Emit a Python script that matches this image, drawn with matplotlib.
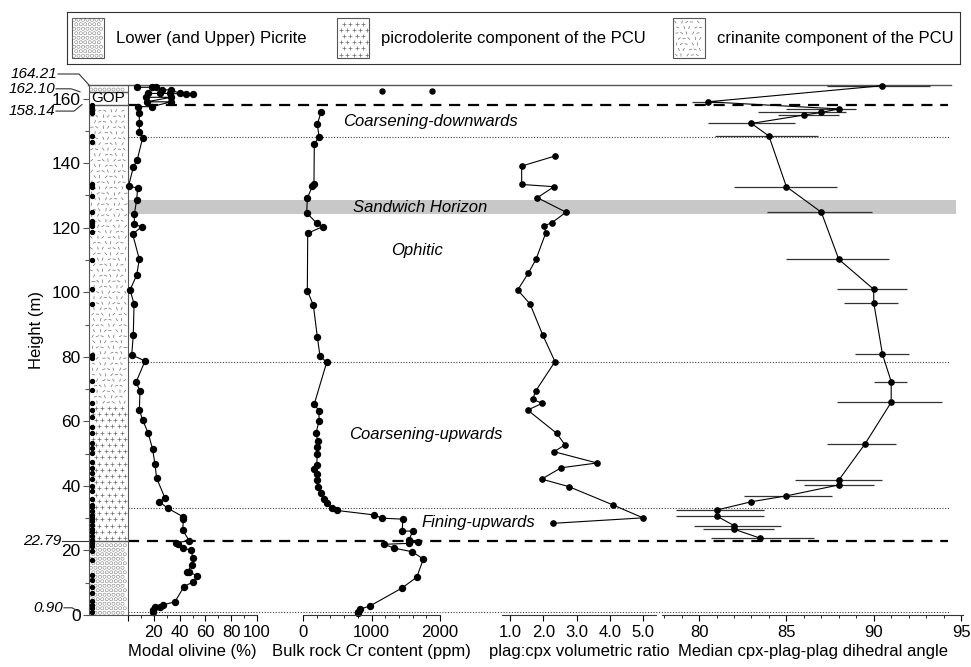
import numpy as np
import matplotlib.pyplot as plt
from matplotlib.collections import LineCollection

plt.rcParams['font.family'] = ['Liberation Sans', 'DejaVu Sans']
plt.rcParams['font.size'] = 12

# sample heights (m) marked along the column
sample_h = [157.9, 157.1, 156.2, 155.5, 148.5, 146.4, 133.5, 132.7, 129.8, 124.9,
            122.0, 121.3, 120.5, 118.7, 109.9, 101.1, 96.4, 80.7, 79.6, 72.6,
            69.7, 65.6, 63.5, 61.4, 58.1, 56.3, 53.4, 51.8, 50.3, 47.4, 45.6,
            44.1, 42.0, 39.9, 38.4, 35.8, 34.2, 33.4, 32.1, 31.1, 30.1, 29.0,
            28.0, 26.7, 25.7, 24.4, 23.1, 22.3, 21.5, 19.7, 17.1, 12.4, 10.9,
            8.8, 6.7, 4.4, 3.1, 2.1, 1.0]

# modal olivine (%)
ol_h = [163.5, 163.5, 163.5, 162.7, 162.7, 161.6, 161.3, 161.3, 161.6, 161.6,
        161.6, 160.4, 160.4, 159.0, 159.0, 157.5, 157.5, 155.4, 152.3, 149.7,
        147.9, 141.1, 138.7, 133.0, 132.2, 128.6, 124.2, 121.0, 120.3, 118.0,
        110.2, 105.3, 100.7, 96.4, 86.8, 80.6, 78.7, 72.1, 69.4, 63.5, 60.4,
        56.3, 51.5, 46.8, 42.4, 36.2, 35.1, 33.1, 30.5, 29.8, 26.3, 23.0, 22.4,
        22.0, 20.7, 20.1, 17.6, 15.5, 13.2, 13.2, 12.2, 10.3, 8.8, 4.1, 3.1,
        2.6, 2.4, 1.5, 0.8]
ol_v = [6.7, 18.4, 21.7, 26.6, 33.1, 40.3, 45.0, 50.1, 32.6, 24.8,
        15.8, 14.0, 33.5, 14.5, 33.5, 18.4, 7.8, 8.8, 8.8, 8.8,
        11.4, 7.2, 4.1, 0.5, 7.5, 6.7, 4.9, 4.9, 10.6, 3.6,
        8.8, 6.7, 1.6, 4.7, 4.1, 2.9, 13.2, 6.2, 9.3, 8.8, 11.4,
        15.7, 19.0, 20.9, 22.2, 28.7, 24.3, 30.7, 42.4, 43.0, 42.4, 47.5, 37.2,
        39.0, 42.9, 48.6, 50.6, 49.6, 45.5, 47.5, 53.7, 50.6, 43.4, 36.4, 26.9,
        24.8, 20.9, 19.6, 19.6]

# bulk rock Cr (ppm)
cr_h = [155.7, 152.1, 148.2, 145.8, 133.5, 132.9, 129.1, 124.6, 121.4, 120.3,
        118.3, 100.5, 96.0, 86.2, 80.2, 78.3, 65.4, 63.2, 60.2, 56.3, 54.0,
        52.1, 49.9, 46.5, 45.1, 43.6, 41.8, 39.8, 37.9, 35.8, 34.6, 33.1, 32.4,
        31.0, 30.0, 29.7, 26.0, 26.0, 23.2, 22.6, 22.2, 21.9, 20.7, 19.6, 17.3,
        11.7, 8.3, 2.8, 1.8, 1.0, 0.6]
cr_v = [263, 209, 234, 165, 160, 136, 63, 54, 200, 288,
        69, 63, 151, 209, 248, 346, 165, 234, 234, 190, 215,
        209, 209, 200, 165, 209, 200, 215, 258, 307, 355, 419, 492,
        1041, 1149, 1456, 1450, 1601, 1548, 1675, 1548, 1183, 1333, 1596, 1757,
        1660, 1441, 978, 832, 808, 800]
cr_gop_h = [162.5, 162.3]
cr_gop_v = [1149, 1888]

# plag:cpx volumetric ratio
ra_h = [142.2, 139.1, 133.4, 132.7, 129.3, 124.8, 121.5, 120.6, 118.3, 110.2,
        105.9, 100.7, 96.4, 86.8, 78.5, 69.4, 66.8, 65.6, 63.5, 56.3, 52.7,
        50.6, 47.1, 45.6, 42.1, 39.8, 34.1, 30.1, 28.4]
ra_v = [2.35, 1.35, 1.35, 2.32, 1.82, 2.68, 2.25, 2.03, 2.07, 1.78,
        1.55, 1.23, 1.60, 1.98, 2.35, 1.77, 1.68, 1.97, 1.53, 2.40, 2.65,
        2.32, 3.61, 2.53, 1.95, 2.76, 4.09, 4.99, 2.28]

# median cpx-plag-plag dihedral angle (deg) with range
an_h = [164.0, 159.0, 156.8, 155.7, 154.9, 152.3, 148.4, 132.7, 124.8, 110.2,
        100.9, 96.8, 80.8, 72.3, 65.9, 53.0, 41.8, 40.3, 36.9, 35.1, 32.5,
        30.7, 27.7, 26.6, 23.8]
an_v = [90.5, 80.5, 88.0, 87.0, 86.0, 83.0, 84.0, 85.0, 87.0, 88.0,
        90.0, 90.0, 90.5, 91.0, 91.0, 89.5, 88.0, 88.0, 85.0, 83.0, 81.0,
        81.0, 82.0, 82.0, 83.5]
an_lo = [87.3, 79.6, 85.0, 83.4, 84.5, 80.5, 80.9, 82.0, 83.9, 85.0,
         87.9, 88.3, 88.9, 90.0, 87.9, 87.3, 85.5, 86.0, 82.6, 83.0, 78.7,
         78.7, 79.7, 80.2, 80.7]
an_hi = [93.2, 81.4, 89.0, 88.4, 88.0, 85.5, 86.8, 87.9, 89.9, 90.9,
         91.9, 91.4, 92.0, 91.9, 93.9, 91.3, 90.5, 90.0, 87.6, 83.0, 83.7,
         83.7, 84.7, 84.3, 86.6]

# stratigraphy
TOP = 164.21
units = [(0.0, 22.79, 'picrite'), (22.79, 65.0, 'picrodolerite'),
         (65.0, 158.14, 'crinanite'), (162.10, TOP, 'picrite')]
dashed_h = [158.14, 22.79]
dotted_h = [148.0, 78.3, 33.2, 0.9]
sandwich = (124.1, 128.6)
zone_text = [(430, 153.0, 'Coarsening-downwards'), (420, 126.4, 'Sandwich Horizon'),
             (417, 112.9, 'Ophitic'), (426, 55.8, 'Coarsening-upwards'),
             (478, 28.6, 'Fining-upwards')]

W, H = 971, 667
KY = TOP / 530.0          # metres per pixel
fig = plt.figure(figsize=(W / 100, H / 100), dpi=100)


def add_px_axes(x0, x1, y0=85, y1=615, **kw):
    ax = fig.add_axes([x0 / W, 1 - y1 / H, (x1 - x0) / W, (y1 - y0) / H], **kw)
    ax.set_facecolor('none')
    ax.set_ylim(0, TOP)
    return ax


def texture(ax, kind, x0, x1, y0, y1, ky):
    """fill a box with a lithology pattern; x in pixels, y in data units"""
    w = x1 - x0
    hpx = (y1 - y0) / ky
    col = '#707070'
    if kind == 'picrite':
        st = 4.5
        xs, ys = [], []
        for j, yy in enumerate(np.arange(st / 2, hpx - 1, st)):
            off = st / 2 if j % 2 else 0.0
            for xx in np.arange(2 + off, w - 1, st):
                xs.append(x0 + xx)
                ys.append(y0 + yy * ky)
        ax.scatter(xs, ys, s=5, facecolors='none', edgecolors='#808080',
                   linewidths=0.4, clip_on=False, zorder=2)
    elif kind == 'picrodolerite':
        xs, ys = [], []
        for j, yy in enumerate(np.arange(3.5, hpx - 2, 6.2)):
            off = 3.2 if j % 2 else 0.0
            for xx in np.arange(3.5 + off, w - 2, 6.5):
                xs.append(x0 + xx)
                ys.append(y0 + yy * ky)
        ax.scatter(xs, ys, s=12, marker='+', color=col, linewidths=0.5,
                   clip_on=False, zorder=2)
    elif kind == 'crinanite':
        segs = []
        k = 0
        for j, yy in enumerate(np.arange(3, hpx - 2, 5.5)):
            for xx in np.arange(3 + (j % 2) * 2.5, w - 2, 5.5):
                k += 1
                a = np.deg2rad((k * 137.5) % 180)
                jx = ((k * 0.618) % 1 - 0.5) * 2.0
                cx, cy = xx + jx, yy
                dx, dy = 1.6 * np.cos(a), 1.6 * np.sin(a)
                segs.append([(x0 + cx - dx, y0 + (cy - dy) * ky),
                             (x0 + cx + dx, y0 + (cy + dy) * ky)])
        ax.add_collection(LineCollection(segs, colors=col, linewidths=0.5,
                                         zorder=2))


# background: horizons, band, zone names
bg = add_px_axes(88, 960)
bg.set_xlim(88, 960)
bg.axis('off')
bg.fill_between([128, 956], sandwich[0], sandwich[1], color='#c8c8c8', lw=0)
bg.plot([88, 951], [TOP, TOP], color='#555555', lw=1.0, clip_on=False)
for h in dashed_h:
    bg.plot([128, 948], [h, h], color='black', lw=1.6, ls=(0, (5, 3.5)))
for h in dotted_h:
    bg.plot([128, 950], [h, h], color='#444444', lw=0.8, ls=(0, (1, 1.5)))
for x, h, t in zone_text:
    bg.text(x, h, t, style='italic', ha='center', va='center', fontsize=12)

# lithological column
st = add_px_axes(89, 128)
st.set_xlim(0, 39)
for y0, y1, kind in units:
    texture(st, kind, 0, 39, y0, y1, KY)
for h in [22.79, 158.14, 162.10]:
    st.plot([0, 39], [h, h], color='#555555', lw=1.0)
st.text(19.5, 160.12, 'GOP', ha='center', va='center', fontsize=11)
st.scatter(np.full(len(sample_h), 3.0), sample_h, s=8, color='black',
           zorder=3, clip_on=False)
for s in ['left', 'right', 'bottom']:
    st.spines[s].set_color('#555555')
st.spines['top'].set_visible(False)
st.set_xticks([])
st.set_yticks(range(0, 161, 20))
st.set_yticks(range(10, 160, 20), minor=True)
st.tick_params(axis='y', which='major', length=4, width=0.8, color='#555555',
               pad=2, labelsize=12.5)
st.tick_params(axis='y', which='minor', length=3, width=0.8, color='#555555')

# italic height callouts
callouts = [(164.21, 11, -32, [-10], 0), (162.10, 3, -34, [-18], -9),
            (158.14, -6.5, -34, [-15], -7), (22.79, 0, -28, [], 0),
            (0.90, 4.3, -26, [-17], -9)]
for h, dy, xt, bends, xend in callouts:
    yl = h + dy * KY
    xs = [xt + 1] + bends + [xend]
    ys = [yl] * (1 + len(bends)) + [h]
    st.plot(xs, ys, color='#333333', lw=0.8, clip_on=False)
    st.text(xt, yl, f'{h:.2f}', style='italic', ha='right', va='center',
            fontsize=11)

fig.text(36 / W, 1 - 330 / H, 'Height (m)', rotation=90, ha='center',
         va='center', fontsize=12)


def panel(x0, x1, xlim, label):
    ax = add_px_axes(x0, x1)
    ax.set_xlim(*xlim)
    for s in ['left', 'right', 'top']:
        ax.spines[s].set_visible(False)
    ax.spines['bottom'].set_color('#333333')
    ax.set_yticks([])
    ax.tick_params(axis='x', which='major', length=4, width=0.8, pad=3,
                   labelsize=12)
    ax.tick_params(axis='x', which='minor', length=2.5, width=0.6)
    ax.set_xlabel(label, fontsize=12, labelpad=3)
    return ax


mk = dict(color='black', lw=0.8, marker='o', ms=4.3, clip_on=False)

ax_ol = panel(128, 257, (0, 100), 'Modal olivine (%)')
ax_ol.set_xticks(range(0, 101, 20), ['', '20', '40', '60', '80', '100'])
ax_ol.set_xticks(range(10, 100, 20), minor=True)
ax_ol.plot(ol_v, ol_h, **mk)

ax_cr = panel(303, 440, (0, 2000), 'Bulk rock Cr content (ppm)')
ax_cr.set_xticks([0, 1000, 2000])
ax_cr.set_xticks(range(200, 2000, 200), minor=True)
ax_cr.plot(cr_v, cr_h, **mk)
ax_cr.plot(cr_gop_v, cr_gop_h, 'o', color='black', ms=3.6, clip_on=False)

ax_ra = panel(502, 656, (0.76, 5.38), 'plag:cpx volumetric ratio')
ax_ra.set_xticks([1, 2, 3, 4, 5], ['1.0', '2.0', '3.0', '4.0', '5.0'])
ax_ra.plot(ra_v, ra_h, **dict(mk, ms=3.8))

ax_an = panel(662, 963, (77.88, 95.11), 'Median cpx-plag-plag dihedral angle')
ax_an.set_xticks([80, 85, 90, 95])
ax_an.set_xticks(range(78, 95), minor=True)
ax_an.hlines(an_h, an_lo, an_hi, color='#333333', lw=0.9, clip_on=False)
ax_an.plot(an_v, an_h, **dict(mk, ms=3.8))

# lithology key
lg = fig.add_axes([67 / W, 1 - 64 / H, 893 / W, 52 / H])
lg.set_xlim(0, 893)
lg.set_ylim(0, 52)
lg.set_xticks([])
lg.set_yticks([])
for s in lg.spines.values():
    s.set_color('#333333')
key = [(5, 'picrite', 'Lower (and Upper) Picrite'),
       (270, 'picrodolerite', 'picrodolerite component of the PCU'),
       (606, 'crinanite', 'crinanite component of the PCU')]
for x0, kind, name in key:
    lg.add_patch(plt.Rectangle((x0, 6), 32, 40, fill=False, ec='#555555', lw=0.8))
    texture(lg, kind, x0, x0 + 32, 6, 46, 1.0)
    lg.text(x0 + 44, 26, name, va='center', fontsize=12)

fig.savefig('out.png', dpi=100)
